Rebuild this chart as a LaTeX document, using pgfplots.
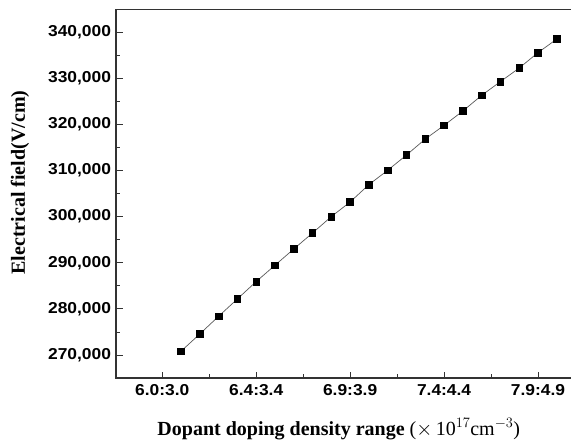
\documentclass[border=0pt]{standalone}
\usepackage{fontspec}
\setmainfont{Liberation Serif}
\newfontfamily\tickfont[FakeStretch=1.1]{Liberation Sans}
\usepackage{pgfplots}
\pgfplotsset{compat=1.18}
\begin{document}
\begin{tikzpicture}
\path[use as bounding box] (0,0) rectangle (571bp,441bp);
\begin{axis}[
  at={(116bp,63bp)}, anchor=south west,
  width=469bp, height=368.7bp, scale only axis,
  xmin=-2.46, xmax=22.5,
  ymin=265000, ymax=345000,
  axis line style={line width=1.1pt, color=black!80},
  tick align=inside,
  xtick pos=bottom, ytick pos=left,
  major tick length=6.5bp, minor tick length=3.8bp,
  every tick/.style={line width=0.8pt, black!80},
  xtick={0,5,10,15,20},
  xticklabels={6.0:3.0,6.4:3.4,6.9:3.9,7.4:4.4,7.9:4.9},
  minor xtick={2.5,7.5,12.5,17.5},
  ytick={270000,280000,290000,300000,310000,320000,330000,340000},
  minor ytick={265000,275000,285000,295000,305000,315000,325000,335000},
  scaled y ticks=false,
  yticklabel style={xshift=-1.5bp, /pgf/number format/fixed, /pgf/number format/1000 sep={,}, /pgf/number format/assume math mode=true},
  ticklabel style={font=\tickfont\bfseries\fontsize{15.8bp}{18bp}\selectfont},
  xticklabel style={yshift=-3bp},
  every axis y label/.style={at={(axis description cs:-0.205,0.53)}, rotate=90, anchor=center},
  every axis x label/.style={at={(axis description cs:0.475,-0.138)}, anchor=center},
  ylabel={\fontsize{20bp}{22bp}\selectfont\bfseries Electrical field(V/cm)},
  xlabel={\fontsize{20bp}{22bp}\selectfont\textbf{Dopant doping density range} (${\times}$\,10$^{17}$cm$^{-3}$)},
]
\addplot[color=black!65, line width=0.7pt, mark=square*, mark size=3.3bp, mark options={fill=black, draw=black, solid}]
coordinates {
(1,270800) (2,274550) (3,278390) (4,282150) (5,285920) (6,289460) (7,292990)
(8,296460) (9,300020) (10,303190) (11,306960) (12,310070) (13,313380) (14,316850)
(15,319820) (16,322930) (17,326330) (18,329310) (19,332260) (20,335600) (21,338550)
};
\end{axis}
\end{tikzpicture}
\end{document}
